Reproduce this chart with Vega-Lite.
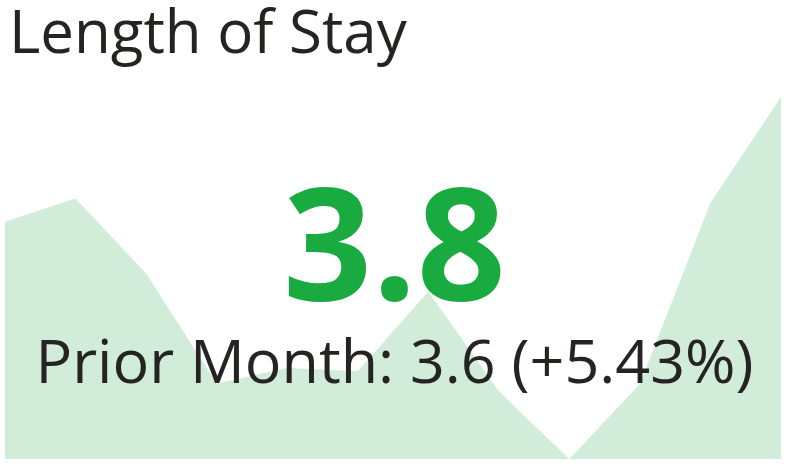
{
  "$schema": "https://vega.github.io/schema/vega-lite/v6.json",
  "width": 776,
  "height": 362,
  "autosize": {"type": "none"},
  "padding": {"left": 5, "top": 97, "right": 8, "bottom": 10},
  "background": "white",
  "config": {"view": {"stroke": null}},
  "layer": [
    {
      "data": {"values": [
        {"month": 1, "los": 3.564},
        {"month": 2, "los": 3.608},
        {"month": 3, "los": 3.466},
        {"month": 4, "los": 3.258},
        {"month": 5, "los": 3.287},
        {"month": 6, "los": 3.281},
        {"month": 7, "los": 3.432},
        {"month": 8, "los": 3.243},
        {"month": 9, "los": 3.115},
        {"month": 10, "los": 3.257},
        {"month": 11, "los": 3.6},
        {"month": 12, "los": 3.8}
      ]},
      "mark": {"type": "area", "color": "#D1EDD9", "opacity": 1},
      "encoding": {
        "x": {"field": "month", "type": "quantitative", "axis": null, "scale": {"domain": [1, 12], "nice": false}},
        "y": {"field": "los", "type": "quantitative", "axis": null, "stack": null, "scale": {"zero": false, "nice": false}}
      }
    },
    {
      "data": {"values": [{"label": "Length of Stay"}]},
      "mark": {"type": "text", "font": "Open Sans", "fontSize": 60, "color": "#252423", "align": "left", "baseline": "alphabetic", "x": 4, "y": -44},
      "encoding": {"text": {"field": "label"}}
    },
    {
      "data": {"values": [{"label": "3.8"}]},
      "mark": {"type": "text", "font": "Open Sans", "fontWeight": "bold", "fontSize": 156, "color": "#1AAB40", "align": "center", "baseline": "alphabetic", "x": 389.5, "y": 203},
      "encoding": {"text": {"field": "label"}}
    },
    {
      "data": {"values": [{"label": "Prior Month: 3.6 (+5.43%)"}]},
      "mark": {"type": "text", "font": "Open Sans", "fontSize": 61, "color": "#252423", "align": "center", "baseline": "alphabetic", "x": 389.5, "y": 286},
      "encoding": {"text": {"field": "label"}}
    }
  ]
}
